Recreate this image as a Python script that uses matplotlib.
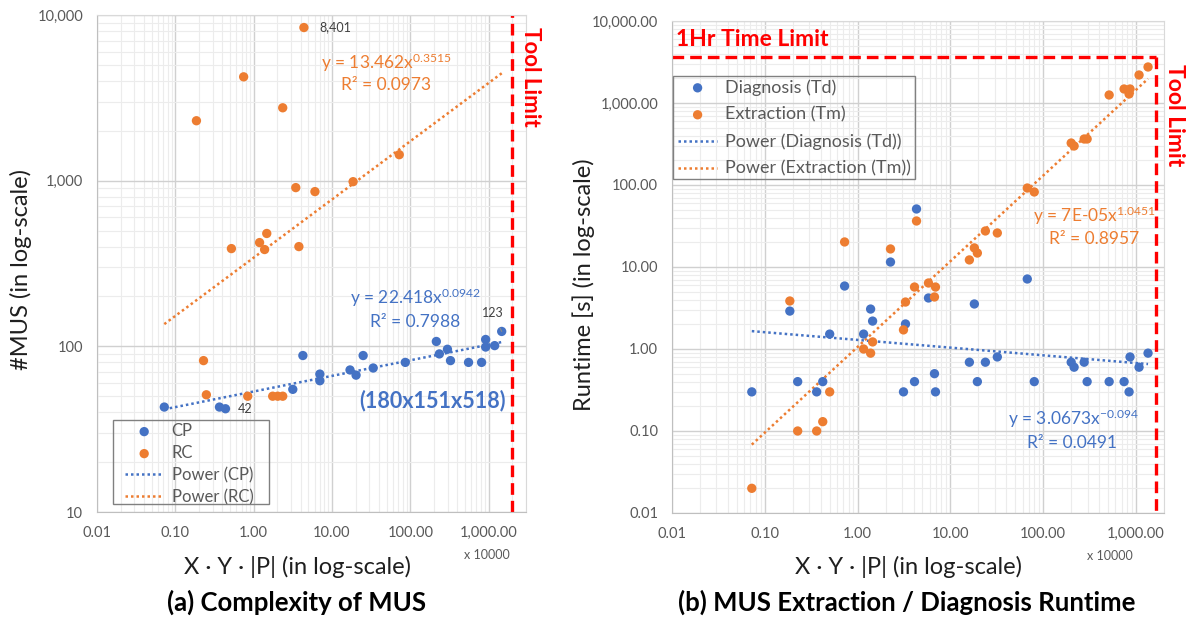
import numpy as np
import matplotlib.pyplot as plt
from matplotlib.patches import Rectangle
from matplotlib.ticker import FixedLocator, FixedFormatter, LogLocator, NullFormatter

plt.rcParams['font.family'] = ['Lato', 'DejaVu Sans']
plt.rcParams['mathtext.fontset'] = 'custom'
plt.rcParams['mathtext.rm'] = 'Lato'
plt.rcParams['mathtext.it'] = 'Lato:italic'
plt.rcParams['mathtext.bf'] = 'Lato:bold'

BLUE = '#4472C4'
ORANGE = '#ED7D31'
RED = '#FF0000'
GREY = '#595959'

# (a) complexity of MUS -- x shown in units of 10000
cp_x = [0.0723, 0.366, 0.437, 3.16, 4.25, 7.0, 7.0, 17.0, 20.3, 25.0, 33.6, 86.3,
        215, 235, 298, 326, 554, 813, 916, 916, 1194, 1468]
cp_y = [43, 43, 42, 55, 88, 68, 62, 72, 67, 88, 74, 80,
        107, 90, 96, 82, 80, 80, 110, 99, 101, 123]
rc_x = [0.186, 0.229, 0.249, 0.52, 0.745, 0.84, 1.19, 1.38, 1.47, 1.75, 2.03, 2.35,
        2.35, 3.45, 3.78, 4.38, 6.06, 18.6, 72.3]
rc_y = [2300, 82, 51, 389, 4234, 50, 423, 384, 480, 50, 50, 50,
        2754, 908, 400, 8401, 859, 986, 1435]
cp_fit = (22.418, 0.0942, 0.7988)
rc_fit = (13.462, 0.3515, 0.0973)

# (b) runtimes
rt_x = [0.0724, 0.186, 0.226, 0.362, 0.421, 0.500, 0.724, 1.16, 1.38, 1.45, 2.26, 3.12,
        3.28, 4.10, 4.31, 5.80, 6.73, 6.90, 16.0, 18.1, 19.5, 23.8, 32.0, 67.3, 80.0,
        200, 215, 276, 297, 513, 743, 841, 861, 1077, 1346]
tm = [0.02, 3.85, 0.10, 0.10, 0.13, 0.30, 20.2, 1.0, 0.89, 1.22, 16.6, 1.71,
      3.74, 5.70, 36.4, 6.38, 4.31, 5.70, 12.2, 17.1, 14.8, 27.5, 26.0, 91.9, 82.2,
      325, 299, 364, 364, 1252, 1482, 1288, 1482, 2195, 2749]
td = [0.30, 2.90, 0.40, 0.30, 0.40, 1.52, 5.86, 1.52, 3.07, 2.19, 11.5, 0.30,
      2.02, 0.40, 51, 4.19, 0.50, 0.30, 0.69, 3.54, 0.40, 0.69, 0.80, 7.14, 0.40,
      0.69, 0.60, 0.69, 0.40, 0.40, 0.40, 0.30, 0.80, 0.60, 0.89]
td_fit = (3.0673, -0.094, 0.0491)
tm_fit = (7e-05, 1.0451, 0.8957)

x_unit = 10000
tool_limit_a = 2000
tool_limit_b = 1640
time_limit = 3600

x_ticks = [0.01, 0.1, 1, 10, 100, 1000]
x_labels = ['0.01', '0.10', '1.00', '10.00', '100.00', '1,000.00']
a_yticks = [10, 100, 1000, 10000]
a_ylabels = ['10', '100', '1,000', '10,000']
b_yticks = [0.01, 0.1, 1, 10, 100, 1000, 10000]
b_ylabels = ['0.01', '0.10', '1.00', '10.00', '100.00', '1,000.00', '10,000.00']

W, H = 1190, 620


def px(x, y):
    return x / W, 1 - y / H


def style(ax, xlim, ylim, yticks, ylabels):
    ax.set_xscale('log')
    ax.set_yscale('log')
    ax.set_xlim(xlim)
    ax.set_ylim(ylim)
    ax.xaxis.set_major_locator(FixedLocator(x_ticks))
    ax.xaxis.set_major_formatter(FixedFormatter(x_labels))
    ax.yaxis.set_major_locator(FixedLocator(yticks))
    ax.yaxis.set_major_formatter(FixedFormatter(ylabels))
    for a in (ax.xaxis, ax.yaxis):
        a.set_minor_locator(LogLocator(base=10, subs=np.arange(2, 10), numticks=30))
        a.set_minor_formatter(NullFormatter())
    ax.grid(which='major', color='#d0d0d0', lw=1.0)
    ax.grid(which='minor', color='#ececec', lw=0.8)
    ax.set_axisbelow(True)
    ax.tick_params(which='both', length=0, labelsize=10.5, colors=GREY, pad=10)
    for s in ax.spines.values():
        s.set_color('#d9d9d9')
    ax.spines['left'].set_color('#bfbfbf')
    ax.spines['bottom'].set_color('#bfbfbf')


def power(fit, xs):
    return fit[0] * (np.asarray(xs) * x_unit) ** fit[1]


def coef(a):
    return f'{a:.0E}' if a < 0.001 else str(a)


def legend_box(x0, y0, x1, y1):
    fig.patches.append(Rectangle(px(x0, y1), (x1 - x0) / W, (y1 - y0) / H,
                                 transform=fig.transFigure, fill=False,
                                 edgecolor='#808080', lw=1.0))


dots = (0, (1, 1.2))

fig = plt.figure(figsize=(11.9, 6.2), dpi=100)

# ---------------- (a) ----------------
ax1 = fig.add_axes([97 / W, 1 - 512 / H, 429 / W, 497 / H])
style(ax1, (0.01, 3000), (10, 10000), a_yticks, a_ylabels)
h1 = ax1.scatter(cp_x, cp_y, s=45, color=BLUE, edgecolors='none', zorder=3, label='CP')
h2 = ax1.scatter(rc_x, rc_y, s=45, color=ORANGE, edgecolors='none', zorder=3, label='RC')
xa = np.logspace(np.log10(min(cp_x + rc_x)), np.log10(max(cp_x + rc_x)), 100)
h3, = ax1.plot(xa, power(cp_fit, xa), color=BLUE, lw=1.8, ls=dots, label='Power (CP)')
h4, = ax1.plot(xa, power(rc_fit, xa), color=ORANGE, lw=1.8, ls=dots, label='Power (RC)')
ax1.axvline(tool_limit_a, color=RED, lw=2.4, dashes=(3.5, 1.8))

i_max = int(np.argmax(rc_y))
ax1.annotate(f'{rc_y[i_max]:,}', (rc_x[i_max], rc_y[i_max]), xytext=(11, 0),
             textcoords='offset points', ha='left', va='center', fontsize=9, color='#404040')
i_min = int(np.argmin(cp_y))
ax1.annotate(f'{cp_y[i_min]:,}', (cp_x[i_min], cp_y[i_min]), xytext=(14, 0),
             textcoords='offset points', ha='center', va='center', fontsize=9, color='#404040')
ax1.annotate(f'{cp_y[-1]:,}', (cp_x[-1], cp_y[-1]), xytext=(-6.5, 13),
             textcoords='offset points', ha='center', va='center', fontsize=9, color='#404040',
             arrowprops=dict(arrowstyle='-', color='#8c8c8c', lw=0.8, shrinkA=5, shrinkB=4))

ax1.legend(handles=[h1, h2, h3, h4], loc='upper left', bbox_to_anchor=px(125, 423),
           bbox_transform=fig.transFigure, fontsize=12, labelcolor=GREY,
           frameon=False, handlelength=2.3, handletextpad=0.5, labelspacing=0.36,
           borderpad=0, borderaxespad=0)
legend_box(113, 420, 269, 504)

fig.text(*px(386, 63), f'y = {coef(rc_fit[0])}x$^{{{rc_fit[1]}}}$', color=ORANGE,
         fontsize=12.5, ha='center', va='center')
fig.text(*px(386, 85), f'R² = {rc_fit[2]:.4f}', color=ORANGE, fontsize=12.5, ha='center', va='center')
fig.text(*px(415, 298), f'y = {coef(cp_fit[0])}x$^{{{cp_fit[1]}}}$', color=BLUE,
         fontsize=12.5, ha='center', va='center')
fig.text(*px(415, 322), f'R² = {cp_fit[2]:.4f}', color=BLUE, fontsize=12.5, ha='center', va='center')
fig.text(*px(432, 401), '(180x151x518)', color=BLUE, fontsize=15.5, fontweight='bold',
         ha='center', va='center')
fig.text(*px(530, 77), 'Tool Limit', color=RED, fontsize=16, fontweight='bold',
         rotation=-90, ha='center', va='center')
fig.text(*px(487, 555), 'x 10000', color=GREY, fontsize=9, ha='center', va='center')
fig.text(*px(297, 567), 'X · Y · |P| (in log-scale)', color='#1f1f1f', fontsize=17,
         ha='center', va='center')
fig.text(*px(21, 269), '#MUS (in log-scale)', color='#1f1f1f', fontsize=17,
         rotation=90, ha='center', va='center')
fig.text(*px(297, 602), '(a) Complexity of MUS', fontsize=18.5, fontweight='bold',
         ha='center', va='center')

# ---------------- (b) ----------------
ax2 = fig.add_axes([672 / W, 1 - 513 / H, 492 / W, 492 / H])
style(ax2, (0.01, 2000), (0.01, 10000), b_yticks, b_ylabels)
g1 = ax2.scatter(rt_x, td, s=45, color=BLUE, edgecolors='none', zorder=3, label='Diagnosis (Td)')
g2 = ax2.scatter(rt_x, tm, s=45, color=ORANGE, edgecolors='none', zorder=3, label='Extraction (Tm)')
xb = np.logspace(np.log10(min(rt_x)), np.log10(max(rt_x)), 100)
g3, = ax2.plot(xb, power(td_fit, xb), color=BLUE, lw=1.8, ls=dots, label='Power (Diagnosis (Td))')
g4, = ax2.plot(xb, power(tm_fit, xb), color=ORANGE, lw=1.8, ls=dots, label='Power (Extraction (Tm))')
ax2.plot([0.01, tool_limit_b], [time_limit, time_limit], color=RED, lw=2.4, dashes=(3.5, 1.8),
         clip_on=False)
ax2.plot([tool_limit_b, tool_limit_b], [time_limit, 0.01], color=RED, lw=2.4, dashes=(3.5, 1.8),
         clip_on=False)

ax2.legend(handles=[g1, g2, g3, g4], loc='upper left', bbox_to_anchor=px(678, 79),
           bbox_transform=fig.transFigure, fontsize=13, labelcolor=GREY,
           frameon=False, handlelength=2.17, handletextpad=0.45, labelspacing=0.6,
           borderpad=0, borderaxespad=0)
legend_box(673, 76, 915, 179)

fig.text(*px(1094, 216), f'y = {coef(tm_fit[0])}x$^{{{tm_fit[1]}}}$', color=ORANGE,
         fontsize=12.5, ha='center', va='center')
fig.text(*px(1094, 239), f'R² = {tm_fit[2]:.4f}', color=ORANGE, fontsize=12.5, ha='center', va='center')
fig.text(*px(1073, 419), f'y = {coef(td_fit[0])}x$^{{{td_fit[1]}}}$', color=BLUE,
         fontsize=12.5, ha='center', va='center')
fig.text(*px(1072, 443), f'R² = {td_fit[2]:.4f}', color=BLUE, fontsize=12.5, ha='center', va='center')
fig.text(*px(676, 40), '1Hr Time Limit', color=RED, fontsize=16.5, fontweight='bold',
         ha='left', va='center')
fig.text(*px(1175, 115), 'Tool Limit', color=RED, fontsize=16.5, fontweight='bold',
         rotation=-90, ha='center', va='center')
fig.text(*px(1110, 556), 'x 10000', color=GREY, fontsize=9, ha='center', va='center')
fig.text(*px(909, 567), 'X · Y · |P| (in log-scale)', color='#1f1f1f', fontsize=17,
         ha='center', va='center')
fig.text(*px(584, 285), 'Runtime [s] (in log-scale)', color='#1f1f1f', fontsize=17,
         rotation=90, ha='center', va='center')
fig.text(*px(907, 602), '(b) MUS Extraction / Diagnosis Runtime', fontsize=18.5, fontweight='bold',
         ha='center', va='center')

fig.savefig('out.png', dpi=100, facecolor='white')
